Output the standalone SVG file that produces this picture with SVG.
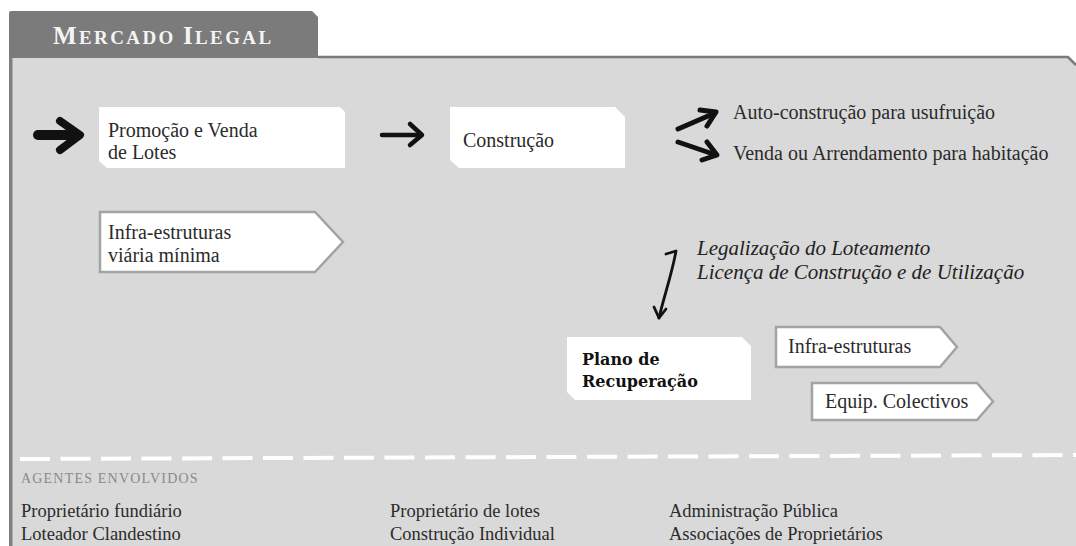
<svg xmlns="http://www.w3.org/2000/svg" width="1076" height="546" viewBox="0 0 1076 546">
<style>
.t{font-family:"Liberation Serif","Times New Roman",serif;font-size:20px;fill:#2b2b2b}
.it{font-family:"Liberation Serif","Times New Roman",serif;font-size:21px;font-style:italic;fill:#222}
.ag{font-family:"Liberation Serif","Times New Roman",serif;font-size:18.5px;fill:#2b2b2b}
.box{fill:#ffffff}
.pent{fill:#ffffff;stroke:#a3a3a3;stroke-width:2.5}
.arr{fill:none;stroke:#111;stroke-linecap:round;stroke-linejoin:round}
</style>
<rect width="1076" height="546" fill="#ffffff"/>
<g id="panel">
<path d="M9,57 L1068,57 L1076,65 L1076,546 L9,546 Z" fill="#d9d9d9"/>
<path d="M318,57 L1068,57 L1076,65" fill="none" stroke="#7a7a7a" stroke-width="2.5"/>
<rect x="9" y="57" width="3.5" height="489" fill="#808080"/>
</g>
<g id="tab">
<path d="M9,58 L9,13 Q9,11 11,11 L312,11 L318,17 L318,58 Z" fill="#7b7b7b"/>
<text x="53" y="44" font-family="'Liberation Serif','Times New Roman',serif" font-weight="bold" fill="#f4f4f4" letter-spacing="2.4"><tspan font-size="25">M</tspan><tspan font-size="19">ERCADO </tspan><tspan font-size="25">I</tspan><tspan font-size="19">LEGAL</tspan></text>
</g>
<g id="connectors">
<path class="arr" d="M38,135 L76,135" stroke-width="10"/>
<path class="arr" d="M60,121 L80,135 L60,150" stroke-width="8"/>
<path class="arr" d="M382,135 L420,135" stroke-width="4.5"/>
<path class="arr" d="M410,124 L422,135 L410,145" stroke-width="4.5"/>
<path class="arr" d="M678,129 L715,113" stroke-width="5"/>
<path class="arr" d="M700,110 L716,112 L707,126" stroke-width="5"/>
<path class="arr" d="M678,142 L716,155" stroke-width="5"/>
<path class="arr" d="M707,142 L717,155 L702,160" stroke-width="5"/>
<path class="arr" d="M666,254 L676,251 C672,274 664,296 659,318" stroke-width="2.8"/>
<path class="arr" d="M654,307 L659,318 L666,309" stroke-width="2.8"/>
</g>
<g id="promocao">
<path class="box" d="M99,107 L340,107 L345,112 L345,168 L107,168 L99,161 Z"/>
<text class="t" x="108" y="137">Promoção e Venda</text>
<text class="t" x="108" y="159">de Lotes</text>
</g>
<g id="infra-viaria">
<path class="pent" d="M100,212 L315,212 L343,242 L315,272 L100,272 Z"/>
<text class="t" x="108" y="239">Infra-estruturas</text>
<text class="t" x="108" y="262">viária mínima</text>
</g>
<g id="construcao">
<path class="box" d="M450,107 L615,107 L625,117 L625,168 L459,168 L450,160 Z"/>
<text class="t" x="463" y="147">Construção</text>
</g>
<g id="resultados">
<text class="t" x="733" y="119">Auto-construção para usufruição</text>
<text class="t" x="733" y="160">Venda ou Arrendamento para habitação</text>
</g>
<g id="legalizacao">
<text class="it" x="697" y="255">Legalização do Loteamento</text>
<text class="it" x="697" y="279">Licença de Construção e de Utilização</text>
</g>
<g id="plano">
<path class="box" d="M567,337 L742,337 L751,346 L751,400 L575,400 L567,392 Z"/>
<text x="582" y="365" font-family="'DejaVu Serif',serif" font-weight="bold" font-size="16" fill="#111">Plano de</text>
<text x="582" y="387" font-family="'DejaVu Serif',serif" font-weight="bold" font-size="16" fill="#111">Recuperação</text>
</g>
<g id="infra-estruturas">
<path class="pent" d="M776,327 L940,327 L957,347 L940,367 L776,367 Z"/>
<text class="t" x="788" y="353">Infra-estruturas</text>
</g>
<g id="equip">
<path class="pent" d="M812,383 L977,383 L993,401.5 L977,420 L812,420 Z"/>
<text class="t" x="825" y="408">Equip. Colectivos</text>
</g>
<g id="agentes">
<line x1="20" y1="459" x2="1076" y2="455" stroke="#ffffff" stroke-width="4" stroke-dasharray="30 10.5"/>
<text x="21" y="483" font-family="'Liberation Serif','Times New Roman',serif" font-size="14" letter-spacing="1.2" fill="#8a8a8a">AGENTES ENVOLVIDOS</text>
<text class="ag" x="21" y="517">Proprietário fundiário</text>
<text class="ag" x="21" y="540">Loteador Clandestino</text>
<text class="ag" x="390" y="517">Proprietário de lotes</text>
<text class="ag" x="390" y="540">Construção Individual</text>
<text class="ag" x="669" y="517">Administração Pública</text>
<text class="ag" x="669" y="540">Associações de Proprietários</text>
</g>
</svg>
